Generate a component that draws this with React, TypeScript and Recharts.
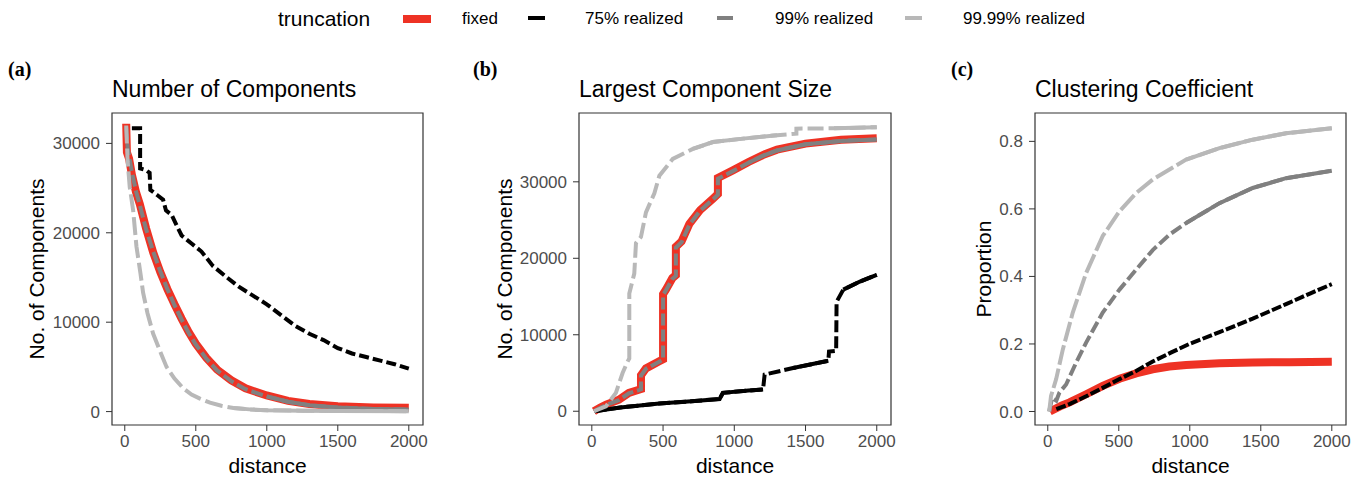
import { LineChart, Line, XAxis, YAxis, ReferenceArea } from 'recharts';

// [distance, value]
const compFixed = [[10, 32200], [15, 29000], [30, 28300], [50, 26500], [80, 24500], [106, 23200], [150, 20500], [200, 17800], [250, 15600], [300, 13700], [350, 12000], [400, 10400], [450, 8900], [500, 7600], [575, 6000], [650, 4700], [750, 3500], [850, 2600], [1000, 1800], [1150, 1200], [1300, 850], [1500, 600], [1750, 470], [2000, 420]];
const comp75 = [[50, 31700], [108, 31700], [108, 27200], [150, 27000], [175, 26700], [180, 24800], [230, 24200], [270, 23700], [290, 22500], [330, 22000], [360, 21000], [400, 19700], [470, 18800], [540, 17900], [620, 16300], [720, 15000], [800, 14000], [900, 13000], [1000, 12000], [1100, 10800], [1200, 9600], [1300, 8700], [1400, 8000], [1500, 7100], [1600, 6500], [1700, 6100], [1800, 5700], [1900, 5300], [2000, 4800]];
const comp99 = [[10, 31800], [20, 29500], [50, 26800], [80, 24600], [106, 23100], [150, 20400], [200, 17900], [250, 15700], [300, 13700], [350, 11900], [400, 10300], [450, 8800], [500, 7500], [575, 5900], [650, 4600], [750, 3400], [850, 2500], [1000, 1700], [1150, 1100], [1300, 700], [1500, 450], [1750, 300], [2000, 220]];
const comp9999 = [[10, 32000], [20, 28000], [35, 25100], [59, 22500], [82, 18500], [110, 15500], [129, 13300], [160, 11000], [200, 8700], [250, 6700], [294, 5000], [350, 3700], [412, 2600], [470, 1900], [529, 1450], [600, 1000], [680, 650], [765, 400], [900, 220], [1000, 160], [1250, 100], [1500, 70], [2000, 50]];

const largestFixed = [[15, 0], [60, 500], [100, 870], [190, 1500], [260, 2400], [330, 2800], [345, 2900], [345, 4700], [380, 5600], [470, 6500], [500, 6800], [500, 15300], [520, 15900], [565, 17400], [590, 17800], [590, 21500], [630, 22200], [685, 24500], [760, 26300], [850, 27800], [885, 28400], [885, 30500], [990, 31500], [1100, 32600], [1200, 33500], [1300, 34200], [1500, 35000], [1750, 35500], [2000, 35700]];
const largest75 = [[20, 0], [200, 500], [474, 1000], [700, 1300], [897, 1600], [920, 2400], [1100, 2700], [1202, 2850], [1213, 4800], [1413, 5650], [1660, 6600], [1665, 7800], [1715, 7900], [1718, 14300], [1765, 15900], [1882, 16960], [2000, 17830]];
const largest99 = [[15, 0], [60, 450], [100, 820], [190, 1450], [260, 2350], [330, 2750], [345, 2850], [345, 4650], [380, 5550], [470, 6450], [500, 6750], [500, 15200], [520, 15800], [565, 17300], [590, 17700], [590, 21400], [630, 22100], [685, 24400], [760, 26200], [850, 27700], [885, 28300], [885, 30400], [990, 31400], [1100, 32500], [1200, 33400], [1300, 34100], [1500, 34900], [1750, 35350], [2000, 35550]];
const largest9999 = [[15, 0], [99, 650], [169, 2400], [216, 5000], [251, 6500], [263, 6900], [263, 15400], [298, 18000], [310, 22000], [345, 22800], [380, 26000], [439, 28500], [474, 30800], [568, 33000], [709, 34300], [850, 35200], [1061, 35650], [1300, 36100], [1436, 36300], [1436, 36950], [1700, 37000], [2000, 37150]];

const clustFixed = [[15, 0], [100, 0.018], [153, 0.027], [270, 0.051], [387, 0.076], [505, 0.097], [622, 0.113], [739, 0.125], [856, 0.133], [974, 0.138], [1209, 0.143], [1443, 0.145], [1700, 0.146], [2000, 0.147]];
const clust75 = [[60, 0.007], [153, 0.022], [270, 0.045], [387, 0.07], [505, 0.096], [622, 0.12], [739, 0.148], [870, 0.175], [997, 0.2], [1209, 0.235], [1443, 0.275], [1678, 0.318], [1850, 0.35], [2000, 0.377]];
const clust99 = [[10, 0], [30, 0.04], [60, 0.032], [82, 0.056], [129, 0.08], [200, 0.145], [270, 0.204], [387, 0.293], [505, 0.361], [622, 0.42], [739, 0.478], [857, 0.524], [974, 0.558], [1209, 0.617], [1443, 0.662], [1678, 0.691], [2000, 0.713]];
const clust9999 = [[10, 0], [23, 0.046], [59, 0.096], [106, 0.184], [176, 0.293], [270, 0.41], [387, 0.52], [505, 0.593], [622, 0.647], [739, 0.687], [974, 0.746], [1209, 0.78], [1443, 0.805], [1678, 0.824], [2000, 0.839]];

const distanceTicks = [0, 500, 1000, 1500, 2000];
const countTicks = [0, 10000, 20000, 30000];
const proportionTicks = [0, 0.2, 0.4, 0.6, 0.8];
const truncationNames = ['fixed', '75% realized', '99% realized', '99.99% realized'];

const X_DOMAIN = [-90, 2100];
const FONT = '"Liberation Sans", Arial, Helvetica, sans-serif';

const seriesStyle = [
  { key: 'fixed', color: '#EE3224', width: 8 },
  { key: 'r75', color: '#000000', width: 4 },
  { key: 'r99', color: '#808080', width: 4 },
  { key: 'r9999', color: '#B8B8B8', width: 4 },
];

const toPts = (rows: number[][]) => rows.map(([x, y]) => ({ x, y }));

// plot area spans left+yWidth .. left+width-RIGHT horizontally, 113..425 vertically
const RIGHT = 25;
const panels = [
  {
    letter: '(a)', letterLeft: 8, left: 0, yWidth: 112, width: 423 + RIGHT, title: 'Number of Components',
    yLabel: 'No. of Components', yLabelX: 37, yDomain: [-1500, 33400], yTicks: countTicks,
    data: [compFixed, comp75, comp99, comp9999],
    dash: [undefined, '10 4', '12 4', '18 5'],
    solid: [[], [], [[1000, 2000]], [[750, 2000]]],
  },
  {
    letter: '(b)', letterLeft: 473, left: 460, yWidth: 119, width: 431 + RIGHT, title: 'Largest Component Size',
    yLabel: 'No. of Components', yLabelX: 45, yDomain: [-1800, 39000], yTicks: countTicks,
    data: [largestFixed, largest75, largest99, largest9999],
    dash: [undefined, '12 4', '12 4', '16 5'],
    solid: [[], [[0, 1205], [1215, 1661], [1720, 2000]], [[1000, 2000]], [[700, 1430], [1440, 2000]]],
  },
  {
    letter: '(c)', letterLeft: 951, left: 920, yWidth: 115, width: 426 + RIGHT, title: 'Clustering Coefficient',
    yLabel: 'Proportion', yLabelX: 64, yDomain: [-0.04, 0.884], yTicks: proportionTicks,
    data: [clustFixed, clust75, clust99, clust9999],
    dash: [undefined, '10 2.5', '12 4', '20 4'],
    solid: [[], [], [[900, 2000]], [[800, 2000]]],
  },
];

const tickStyle = { fill: '#4d4d4d', fontSize: 17, fontFamily: FONT };

const Panel = ({ p }: { p: (typeof panels)[number] }) => {
  const lines: any[] = [];
  seriesStyle.forEach((s, i) => {
    const pts = toPts(p.data[i]);
    lines.push(
      <Line key={s.key} data={pts} dataKey="y" type="linear" stroke={s.color} strokeWidth={s.width}
        strokeDasharray={p.dash[i]} dot={false} activeDot={false} isAnimationActive={false} />
    );
    (p.solid[i] as number[][]).forEach(([lo, hi], j) => {
      lines.push(
        <Line key={s.key + '-solid-' + j} data={pts.filter((d) => d.x >= lo && d.x <= hi)} dataKey="y"
          type="linear" stroke={s.color} strokeWidth={s.width} dot={false} activeDot={false}
          isAnimationActive={false} />
      );
    });
  });
  return (
    <div style={{ position: 'absolute', left: p.left, top: 111 }}>
      <LineChart width={p.width} height={366} margin={{ top: 2, right: RIGHT, bottom: 4, left: 0 }}>
        <XAxis dataKey="x" type="number" domain={X_DOMAIN} ticks={distanceTicks} allowDataOverflow
          height={48} axisLine={false} tickLine={{ stroke: '#333' }} tickSize={6} tickMargin={4} tick={tickStyle}
          label={{ value: 'distance', position: 'insideBottom', offset: 0, fill: '#000', fontSize: 21, fontFamily: FONT }} />
        <YAxis type="number" domain={p.yDomain} ticks={p.yTicks} allowDataOverflow width={p.yWidth}
          axisLine={false} tickLine={{ stroke: '#333' }} tickSize={6} tickMargin={6} tick={tickStyle}
          tickFormatter={(v: number) => (p.yTicks === proportionTicks ? v.toFixed(1) : String(v))}
          label={{ value: p.yLabel, angle: -90, position: 'insideLeft', offset: p.yLabelX, fill: '#000',
            fontSize: 21, fontFamily: FONT, style: { textAnchor: 'middle' } }} />
        <ReferenceArea x1={X_DOMAIN[0]} x2={X_DOMAIN[1]} y1={p.yDomain[0]} y2={p.yDomain[1]}
          fill="none" stroke="#333" strokeWidth={1.2} ifOverflow="visible" />
        {lines}
      </LineChart>
    </div>
  );
};

const legendKeys = [
  { left: 403, top: 15, w: 28, h: 7.5 },
  { left: 528, top: 16, w: 17, h: 4 },
  { left: 717, top: 16, w: 16, h: 4 },
  { left: 905, top: 16, w: 17, h: 4 },
];
const legendTextLeft = [462, 585, 775, 963];

export default function App() {
  return (
    <div style={{ position: 'absolute', left: 0, top: 0, width: 1366, height: 477, overflow: 'hidden',
      background: '#fff', fontFamily: FONT, color: '#000' }}>
      <div style={{ position: 'absolute', left: 278, top: 8, fontSize: 21, lineHeight: '21px' }}>truncation</div>
      {truncationNames.map((name, i) => (
        <div key={name}>
          <div style={{ position: 'absolute', left: legendKeys[i].left, top: legendKeys[i].top,
            width: legendKeys[i].w, height: legendKeys[i].h, background: seriesStyle[i].color }} />
          <div style={{ position: 'absolute', left: legendTextLeft[i], top: 10, fontSize: 17,
            lineHeight: '17px', whiteSpace: 'nowrap' }}>{name}</div>
        </div>
      ))}
      {panels.map((p) => (
        <div key={p.letter}>
          <div style={{ position: 'absolute', left: p.letterLeft, top: 59, fontSize: 20, lineHeight: '20px',
            fontWeight: 'bold', fontFamily: '"Liberation Serif", "Times New Roman", serif' }}>{p.letter}</div>
          <div style={{ position: 'absolute', left: p.left + p.yWidth, top: 77.5, fontSize: 23,
            lineHeight: '23px', whiteSpace: 'nowrap' }}>{p.title}</div>
          <Panel p={p} />
        </div>
      ))}
    </div>
  );
}
